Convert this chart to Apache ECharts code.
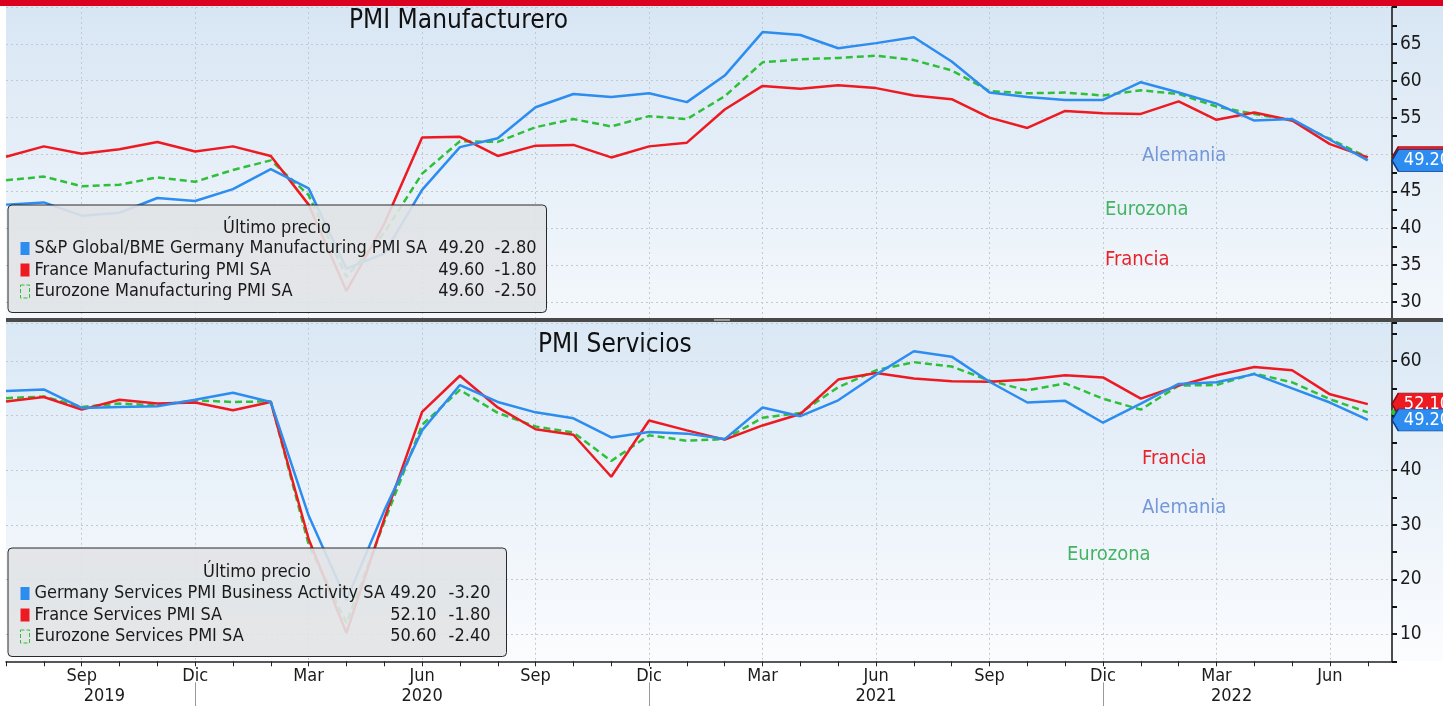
<!DOCTYPE html>
<html><head><meta charset="utf-8">
<script src="https://cdn.jsdelivr.net/npm/echarts@6/dist/echarts.min.js"></script>
<style>html,body{margin:0;padding:0;background:#fff;}#c{width:1443px;height:706px;}</style>
</head><body><div id="c"></div>
<script>
// ---------- DATA ----------
const months = ['2019-07','2019-08','2019-09','2019-10','2019-11','2019-12',
  '2020-01','2020-02','2020-03','2020-04','2020-05','2020-06','2020-07','2020-08','2020-09','2020-10','2020-11','2020-12',
  '2021-01','2021-02','2021-03','2021-04','2021-05','2021-06','2021-07','2021-08','2021-09','2021-10','2021-11','2021-12',
  '2022-01','2022-02','2022-03','2022-04','2022-05','2022-06','2022-07'];
const monthNames = ['Ene','Feb','Mar','Abr','May','Jun','Jul','Ago','Sep','Oct','Nov','Dic'];
const quarterLabels = ['Mar','Jun','Sep','Dic'];
const yearLabels = ['2019','2020','2021','2022'];
const yearLabelPos = [2.6, 11, 23, 32.4];
const yearBreakPos = [5, 17, 29];

const deMfg = [43.2,43.5,41.7,42.1,44.1,43.7, 45.3,48.0,45.4,34.5,36.6,45.2,51.0,52.2,56.4,58.2,57.8,58.3,
  57.1,60.7,66.6,66.2,64.4,65.1,65.9,62.6,58.4,57.8,57.4,57.4, 59.8,58.4,56.9,54.6,54.8,52.0,49.2];
const frMfg = [49.7,51.1,50.1,50.7,51.7,50.4, 51.1,49.8,43.2,31.5,40.6,52.3,52.4,49.8,51.2,51.3,49.6,51.1,
  51.6,56.1,59.3,58.9,59.4,59.0,58.0,57.5,55.0,53.6,55.9,55.6, 55.5,57.2,54.7,55.7,54.6,51.4,49.6];
const ezMfg = [46.5,47.0,45.7,45.9,46.9,46.3, 47.9,49.2,44.5,33.4,39.4,47.4,51.8,51.7,53.7,54.8,53.8,55.2,
  54.8,57.9,62.5,62.9,63.1,63.4,62.8,61.4,58.6,58.3,58.4,58.0, 58.7,58.2,56.5,55.5,54.6,52.1,49.6];

const deSrv = [54.5,54.8,51.4,51.6,51.7,52.9, 54.2,52.5,31.7,16.2,32.6,47.3,55.6,52.5,50.6,49.5,46.0,47.0,
  46.7,45.7,51.5,49.9,52.8,57.5,61.8,60.8,56.2,52.4,52.7,48.7, 52.2,55.8,56.1,57.6,55.0,52.4,49.2];
const frSrv = [52.6,53.4,51.1,52.9,52.2,52.4, 51.0,52.5,27.4,10.2,31.1,50.7,57.3,51.5,47.5,46.5,38.8,49.1,
  47.3,45.6,48.2,50.3,56.6,57.8,56.8,56.3,56.2,56.6,57.4,57.0, 53.1,55.5,57.4,58.9,58.3,53.9,52.1];
const ezSrv = [53.2,53.5,51.6,52.2,51.9,52.8, 52.5,52.6,26.4,12.0,30.5,48.3,54.7,50.5,48.0,46.9,41.7,46.4,
  45.4,45.7,49.6,50.5,55.2,58.3,59.8,59.0,56.4,54.6,55.9,53.1, 51.1,55.5,55.6,57.7,56.1,53.0,50.6];

const mfgNames = ['S&P Global/BME Germany Manufacturing PMI SA','France Manufacturing PMI SA','Eurozone Manufacturing PMI SA'];
const srvNames = ['Germany Services PMI Business Activity SA','France Services PMI SA','Eurozone Services PMI SA'];
const titles = ['PMI Manufacturero','PMI Servicios'];
const legendTitle = 'Último precio';
const mfgNotes = ['Alemania','Eurozona','Francia'];
const srvNotes = ['Francia','Alemania','Eurozona'];

// ---------- STYLE ----------
const FONT = "'DejaVu Sans Condensed','Liberation Sans Narrow','Roboto Condensed',Roboto,sans-serif";
const BLUE = '#2c8cf0', RED = '#ee1a22', GREEN = '#2fc03a';
const X_MAX = 36.64;

const quarterIdx = months.map((m,i)=>[m,i]).filter(([m])=>quarterLabels.includes(monthNames[+m.slice(5)-1])).map(d=>d[1]);
const pairs = arr => arr.map((v,i)=>[i,v]);
const last = arr => arr[arr.length-1];
const chg = arr => (arr[arr.length-1]-arr[arr.length-2]);

function tag(arr, color, border, showLabel){
  return {
    silent:true, animation:false, z:8,
    symbol:'path://M0,11 L7,0 L70,0 L70,22 L7,22 Z', symbolKeepAspect:false,
    symbolSize:[64,22], symbolOffset:[32,0],
    itemStyle:{color:color, borderColor:border, borderWidth:1},
    label:{show:showLabel, position:'inside', offset:[3,0], formatter: last(arr).toFixed(2), color:'#fff', fontSize:18, fontFamily:FONT},
    data:[{coord:[X_MAX, last(arr)]}]
  };
}
function dot(arr, color){
  return { silent:true, animation:false, z:8, symbol:'circle', symbolSize:6, symbolOffset:[2,0],
    itemStyle:{color}, label:{show:false}, data:[{coord:[X_MAX, last(arr)]}] };
}
function line(name, arr, color, gi, dashed, marker){
  return {
    type:'line', name, xAxisIndex: gi===0?0:1, yAxisIndex:gi, data:pairs(arr), symbol:'none',
    lineStyle:{color, width:2.5, type: dashed?[7,4]:'solid'}, itemStyle:{color},
    animation:false, markPoint: marker
  };
}
function legendFor(names, arrs, top, nameW, cW, padTop, padRight, padBottom){
  const info = {};
  names.forEach((n,i)=>{ info[n] = [last(arrs[i]).toFixed(2), chg(arrs[i]).toFixed(2)]; });
  const rs = {fontFamily:FONT, fontSize:18, color:'#1a1a1a'};
  return {
    orient:'vertical', left:8, top, padding:[padTop,padRight,padBottom,12], itemWidth:9, itemHeight:13, itemGap:3.5,
    backgroundColor:'rgba(225,227,230,0.9)', borderColor:'#2a2a2a', borderWidth:1, borderRadius:4,
    selectedMode:false,
    data:[
      {name:names[0], icon:'rect', itemStyle:{color:BLUE}},
      {name:names[1], icon:'rect', itemStyle:{color:RED}},
      {name:names[2], icon:'rect', itemStyle:{color:'rgba(0,0,0,0)', borderColor:GREEN, borderWidth:1, borderType:'dashed'}}
    ],
    formatter: n => `{n|${n}}{v|${info[n][0]}}{c|${info[n][1]}}`,
    textStyle:{fontFamily:FONT, fontSize:18, color:'#1a1a1a',
      rich:{ n:Object.assign({width:nameW},rs), v:Object.assign({width:52, align:'right'},rs), c:Object.assign({width:cW, align:'right'},rs) }}
  };
}
// labels hidden where the last-value tags sit over them
function yAxis(gi, min, max, interval, labelStep, lo, hi, tagged){
  return {
    type:'value', gridIndex:gi, position:'right', min, max, interval,
    axisLine:{show:true, onZero:false, lineStyle:{color:'#111', width:1.5}},
    axisTick:{show:true, length:5, lineStyle:{color:'#111', width:2}},
    axisLabel:{fontFamily:FONT, fontSize:19, color:'#1b1b1b', margin:8,
      formatter: v => (Math.abs(v % labelStep) < 1e-9 && v>=lo && v<=hi && !tagged.some(t=>Math.abs(t-v)<2)) ? String(v) : ''},
    splitLine:{show:true, lineStyle:{color:['rgba(0,0,0,0)','#c3c9d0'], type:[2,3], width:1}}
  };
}
const grad = (c1,c2)=>({type:'linear',x:0,y:0,x2:0,y2:1,colorStops:[{offset:0,color:c1},{offset:1,color:c2}]});
const noteStyle = (fill)=>({fill, font:`20px ${FONT}`, verticalAlign:'middle', align:'left'});
const titleStyle = {fontFamily:FONT, fontSize:26, fontWeight:'normal', color:'#111'};

const option = {
  animation:false,
  title:[
    {text:titles[0], left:349, top:8, padding:0, textStyle:titleStyle},
    {text:titles[1], left:538, top:332, padding:0, textStyle:titleStyle}
  ],
  grid:[
    {left:6, right:51, top:7, height:313.4},
    {left:6, right:51, top:322.8, height:338.5}
  ],
  xAxis:[
    {type:'value', gridIndex:0, min:0, max:X_MAX, axisLine:{show:false}, axisTick:{show:false, customValues:quarterIdx}, axisLabel:{show:false},
      splitLine:{show:true, lineStyle:{color:'#c3c9d0', type:[2,3]}}},
    {type:'value', gridIndex:1, min:0, max:X_MAX, interval:1,
      axisLine:{show:true, onZero:false, lineStyle:{color:'#222', width:1.5}},
      axisTick:{show:true, length:5, lineStyle:{color:'#222'}},
      axisLabel:{fontFamily:FONT, fontSize:18, color:'#1b1b1b', margin:6, showMaxLabel:false,
        formatter: v => { if(!Number.isInteger(v) || !months[v]) return ''; const n = monthNames[+months[v].slice(5)-1]; return quarterLabels.includes(n)?n:''; }},
      splitLine:{show:false}},
    {type:'value', gridIndex:1, min:0, max:X_MAX, position:'bottom',
      axisLine:{show:false}, axisTick:{show:false, customValues:quarterIdx}, axisLabel:{show:false},
      splitLine:{show:true, lineStyle:{color:'#c3c9d0', type:[2,3]}}},
    {type:'value', gridIndex:1, min:0, max:X_MAX, position:'bottom', offset:21,
      axisLine:{show:false},
      axisTick:{show:true, customValues:yearBreakPos, length:25, lineStyle:{color:'#9a9a9a'}},
      axisLabel:{customValues:yearLabelPos, fontFamily:FONT, fontSize:18, color:'#1b1b1b', margin:5,
        formatter: v => { const i = yearLabelPos.indexOf(v); return i>=0 ? yearLabels[i] : ''; }},
      splitLine:{show:false}}
  ],
  yAxis:[
    yAxis(0, 27.5, 70, 2.5, 5, 30, 65, [last(deMfg), last(frMfg)]),
    yAxis(1, 5, 67, 5, 10, 10, 60, [last(deSrv), last(frSrv)])
  ],
  legend:[
    legendFor(mfgNames, [deMfg, frMfg, ezMfg], 205, 398, 52, 34.5, 10, 12),
    legendFor(srvNames, [deSrv, frSrv, ezSrv], 548, 350, 54, 36.5, 16, 11)
  ],
  series:[
    line(mfgNames[2], ezMfg, GREEN, 0, true, dot(ezMfg, GREEN)),
    line(mfgNames[1], frMfg, RED, 0, false, tag(frMfg, RED, '#8a0a0a', false)),
    line(mfgNames[0], deMfg, BLUE, 0, false, tag(deMfg, BLUE, '#0b3b88', true)),
    line(srvNames[2], ezSrv, GREEN, 1, true, dot(ezSrv, GREEN)),
    line(srvNames[1], frSrv, RED, 1, false, tag(frSrv, RED, '#8a0a0a', true)),
    line(srvNames[0], deSrv, BLUE, 1, false, tag(deSrv, BLUE, '#0b3b88', true))
  ],
  graphic:[
    {type:'rect', z:-100, shape:{x:6,y:6,width:1437,height:314}, style:{fill:grad('#d8e6f4','#f4f8fc')}},
    {type:'rect', z:-100, shape:{x:6,y:322,width:1437,height:339}, style:{fill:grad('#dae8f5','#fbfcfe')}},
    {type:'rect', z:50, shape:{x:0,y:0,width:1443,height:6}, style:{fill:'#dc0020'}},
    {type:'rect', z:50, shape:{x:6,y:318,width:1437,height:4}, style:{fill:'#4a4a4a'}},
    {type:'rect', z:51, shape:{x:714,y:319,width:16,height:2}, style:{fill:'#9a9a9a'}},
    {type:'text', z:60, x:277, y:228, style:{text:legendTitle, fill:'#1a1a1a', font:`18px ${FONT}`, align:'center', verticalAlign:'middle'}},
    {type:'text', z:60, x:257, y:572, style:{text:legendTitle, fill:'#1a1a1a', font:`18px ${FONT}`, align:'center', verticalAlign:'middle'}},
    {type:'text', z:60, x:1142, y:156, style:Object.assign({text:mfgNotes[0]}, noteStyle('#7397da'))},
    {type:'text', z:60, x:1105, y:210, style:Object.assign({text:mfgNotes[1]}, noteStyle('#45b365'))},
    {type:'text', z:60, x:1105, y:260, style:Object.assign({text:mfgNotes[2]}, noteStyle('#e8222a'))},
    {type:'text', z:60, x:1142, y:459, style:Object.assign({text:srvNotes[0]}, noteStyle('#e8222a'))},
    {type:'text', z:60, x:1142, y:508, style:Object.assign({text:srvNotes[1]}, noteStyle('#7397da'))},
    {type:'text', z:60, x:1067, y:555, style:Object.assign({text:srvNotes[2]}, noteStyle('#45b365'))}
  ]
};
const chart = echarts.init(document.getElementById('c'), null, {renderer:'canvas'});
chart.setOption(option);
</script></body></html>
